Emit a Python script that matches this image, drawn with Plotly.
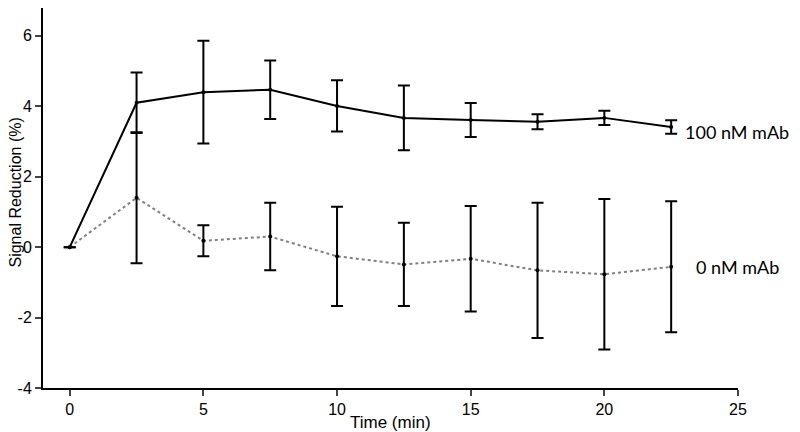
import plotly.graph_objects as go

time = [0, 2.5, 5, 7.5, 10, 12.5, 15, 17.5, 20, 22.5]

mab100 = [0, 4.10, 4.40, 4.47, 4.01, 3.67, 3.61, 3.56, 3.67, 3.41]
mab100_err = [0, 0.86, 1.46, 0.83, 0.73, 0.92, 0.48, 0.21, 0.20, 0.19]

mab0 = [0, 1.40, 0.18, 0.30, -0.26, -0.49, -0.33, -0.66, -0.77, -0.56]
mab0_err = [0, 1.86, 0.44, 0.96, 1.41, 1.18, 1.50, 1.92, 2.14, 1.86]

labels = ["100 nM mAb", "0 nM mAb"]
x_ticks = [0, 5, 10, 15, 20, 25]
y_ticks = [-4, -2, 0, 2, 4, 6]
y_ticktext = ["-4", "-2", "0", "2", "4", "6"]

# the page body adds an 8px margin, so the figure is 8px smaller in each direction
W, H = 792, 424
L, R, T, B = 35, 62, 0, 44

fig = go.Figure()

fig.add_trace(go.Scatter(
    x=time, y=mab0, mode="lines+markers",
    line=dict(color="#808080", width=2, dash="dot"),
    marker=dict(color="black", size=4),
    error_y=dict(type="data", array=mab0_err, visible=True,
                 color="black", thickness=2, width=6),
    showlegend=False, cliponaxis=False,
))

fig.add_trace(go.Scatter(
    x=time, y=mab100, mode="lines+markers",
    line=dict(color="black", width=2),
    marker=dict(color="black", size=4),
    error_y=dict(type="data", array=mab100_err, visible=True,
                 color="black", thickness=2, width=6),
    showlegend=False, cliponaxis=False,
))

fig.add_annotation(x=22.94, y=3.28, xref="x", yref="y", text=labels[0],
                   showarrow=False, xanchor="left", yanchor="middle",
                   font=dict(family="Lato", size=18, color="black"))
fig.add_annotation(x=23.35, y=-0.56, xref="x", yref="y", text=labels[1],
                   showarrow=False, xanchor="left", yanchor="middle",
                   font=dict(family="Lato", size=18, color="black"))

# axis titles placed in figure pixels, converted to paper coordinates
def px_to_paper(px, py):
    return (px - L) / (W - L - R), (H - py - B) / (H - T - B)

tx, ty = px_to_paper(383, 414)
fig.add_annotation(x=tx, y=ty, xref="paper", yref="paper", text="Time (min)",
                   showarrow=False, xanchor="center", yanchor="middle",
                   font=dict(size=17, color="black"))
sx, sy = px_to_paper(7.5, 185)
fig.add_annotation(x=sx, y=sy, xref="paper", yref="paper", text="Signal Reduction (%)",
                   showarrow=False, xanchor="center", yanchor="middle", textangle=-90,
                   font=dict(size=16, color="black"))

fig.update_layout(
    width=W, height=H,
    margin=dict(l=L, r=R, t=T, b=B),
    paper_bgcolor="white", plot_bgcolor="white",
    font=dict(family="Liberation Sans", size=16, color="black"),
)

fig.update_xaxes(
    range=[-1, 25], tickvals=x_ticks, ticks="outside", ticklen=6, tickwidth=2,
    showline=True, linecolor="black", linewidth=2, showgrid=False, zeroline=False,
    tickfont=dict(size=16), automargin=False,
)
fig.update_yaxes(
    range=[-4, 6.79], tickvals=y_ticks, ticktext=y_ticktext, ticks="outside",
    ticklen=6, tickwidth=2,
    showline=True, linecolor="black", linewidth=2, showgrid=False, zeroline=False,
    tickfont=dict(size=16), automargin=False,
)

fig.write_html("out.html")
